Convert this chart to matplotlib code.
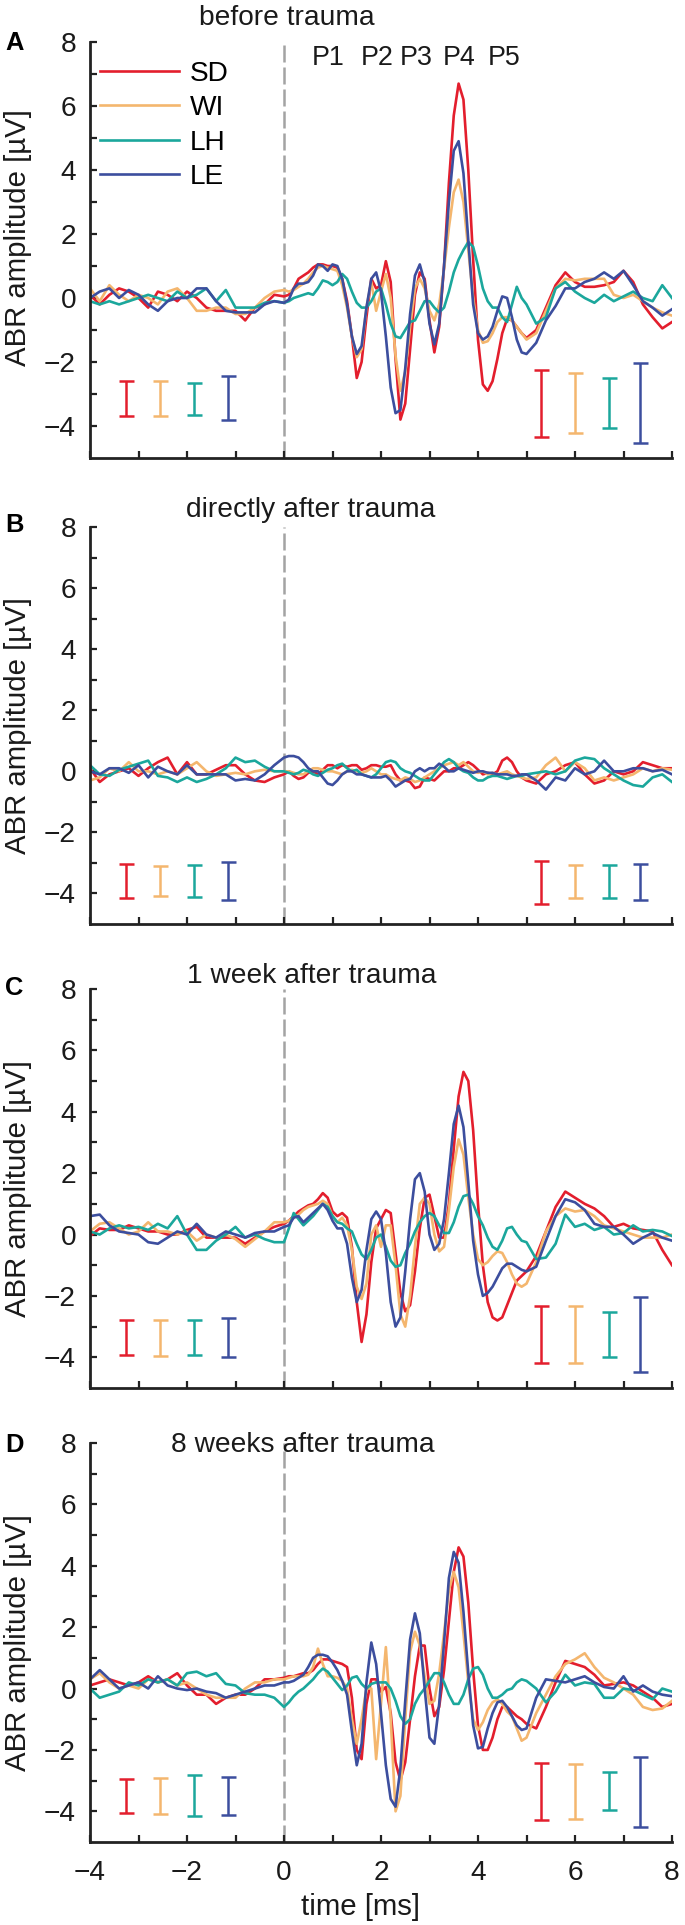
import numpy as np
import matplotlib.pyplot as plt
import matplotlib.transforms as mtransforms
from matplotlib import font_manager

# condensed Helvetica look if a narrow face is available
installed = {f.name for f in font_manager.fontManager.ttflist}
if 'Liberation Sans Narrow' in installed:
    plt.rcParams['font.family'] = ['Liberation Sans Narrow', 'DejaVu Sans']
    fs = 1.0
else:
    plt.rcParams['font.family'] = ['Liberation Sans', 'DejaVu Sans']
    fs = 0.92

# sampling grid of the read-off traces [ms]
time_pre = np.round(np.arange(-4.0, -0.1, 0.2), 1)    # 20 samples
time_resp = np.round(np.arange(0.0, 5.05, 0.1), 1)    # 51 samples
time_post = np.round(np.arange(5.2, 8.05, 0.2), 1)    # 15 samples
t = np.concatenate([time_pre, time_resp, time_post])

groups = ['SD', 'WI', 'LH', 'LE']
colors = ['#E31E2D', '#F4B66E', '#1BA79C', '#3C4E9E']
titles = ['before trauma', 'directly after trauma', '1 week after trauma', '8 weeks after trauma']
panel_letters = ['A', 'B', 'C', 'D']
peak_names = ['P1', 'P2', 'P3', 'P4', 'P5']

# ---- panel A: before trauma ----
A_SD = [0.1, -0.2, 0.1, 0.3, 0.2, 0.0, -0.3, 0.2, 0.1, -0.1, 0.2, 0.0, -0.3, -0.4, -0.4, -0.4, -0.7, -0.3, -0.2, 0.1,
        0.05, 0.1, 0.3, 0.6, 0.7, 0.8, 0.95, 1.05, 1.05, 1.0,
        1.0, 0.95, 0.6, -0.1, -1.2, -2.5, -2.0, -0.6, 0.6, 0.3,
        0.4, 1.15, 0.5, -1.9, -3.8, -3.3, -1.6, 0.1, 0.8, 0.6,
        -0.7, -1.7, -0.9, 1.0, 3.6, 5.7, 6.7, 6.2, 4.0, 1.2,
        -1.3, -2.7, -2.9, -2.6, -1.9, -1.1, -0.65, -0.7, -0.9, -1.1, -1.25,
        -1.0, -0.3, 0.4, 0.8, 0.5, 0.35, 0.35, 0.4, 0.5, 0.85, 0.5, -0.2, -0.6, -0.95, -0.75]
A_WI = [0.3, -0.1, 0.4, 0.1, -0.1, 0.1, 0.0, -0.2, 0.2, 0.3, 0.0, -0.4, -0.4, -0.3, -0.3, -0.5, -0.5, -0.3, 0.0, 0.2,
        0.25, 0.2, 0.25, 0.35, 0.45, 0.6, 0.8, 0.95, 1.0, 0.95,
        0.9, 0.85, 0.4, -0.3, -1.2, -1.85, -1.6, -0.3, 0.5, -0.4,
        0.2, 0.75, 0.0, -1.8, -2.9, -2.3, -0.9, 0.3, 0.6, 0.3,
        -0.4, -0.7, -0.2, 0.9, 2.2, 3.3, 3.7, 3.0, 1.5, 0.0,
        -1.0, -1.4, -1.35, -1.1, -0.75, -0.6, -0.6, -0.7, -0.9, -1.1, -1.3,
        -1.1, -0.4, 0.3, 0.6, 0.55, 0.6, 0.6, 0.6, 0.1, 0.0, 0.1, -0.1, -0.3, -0.45, -0.55]
A_LH = [-0.1, -0.2, -0.1, -0.2, -0.1, 0.0, 0.1, 0.0, -0.1, 0.2, 0.0, 0.1, 0.3, -0.1, 0.25, -0.3, -0.3, -0.3, -0.15, -0.1,
        -0.15, -0.1, 0.0, 0.05, 0.1, 0.15, 0.1, 0.3, 0.55, 0.5,
        0.4, 0.5, 0.75, 0.6, 0.2, -0.15, -0.3, -0.3, -0.1, 0.2,
        0.3, -0.2, -0.8, -1.2, -1.25, -1.0, -0.75, -0.7, -0.4, -0.1,
        -0.1, -0.3, -0.45, -0.3, 0.2, 0.8, 1.2, 1.5, 1.75, 1.6,
        1.0, 0.3, -0.1, -0.3, -0.3, -0.6, -0.75, -0.2, 0.35, 0.0, -0.2,
        -0.8, -0.6, 0.3, 0.5, 0.2, 0.0, -0.15, 0.1, -0.1, 0.05, 0.2, 0.0, -0.1, 0.4, 0.0]
A_LE = [0.0, 0.2, 0.3, 0.0, 0.25, 0.1, -0.2, -0.4, -0.1, 0.0, 0.0, 0.3, 0.3, -0.1, -0.4, -0.45, -0.45, -0.45, -0.2, -0.1,
        -0.15, -0.05, 0.3, 0.45, 0.45, 0.5, 0.7, 1.05, 1.0, 0.85,
        1.05, 1.0, 0.6, -0.2, -1.2, -1.75, -1.5, -0.3, 0.6, 0.8,
        0.2, -1.2, -2.8, -3.6, -3.5, -2.2, -0.5, 0.7, 1.05, 0.5,
        -0.8, -1.45, -0.8, 1.0, 3.0, 4.6, 4.9, 3.9, 1.8, -0.2,
        -1.1, -1.3, -1.2, -0.9, -0.4, 0.05, 0.0, -0.6, -1.3, -1.7, -1.75,
        -1.4, -0.7, -0.25, 0.3, 0.3, 0.5, 0.6, 0.8, 0.6, 0.85, 0.4, -0.1, -0.3, -0.55, -0.35]

# ---- panel B: directly after trauma ----
B_SD = [0.1, -0.35, -0.1, 0.0, 0.1, -0.15, 0.1, 0.3, 0.45, -0.1, 0.3, -0.1, -0.1, 0.05, 0.2, 0.2, -0.1, -0.3, -0.35, -0.2,
        -0.1, 0.0, -0.15, -0.25, -0.2, -0.05, 0.0, -0.1, 0.05, 0.2,
        0.2, 0.1, 0.2, 0.15, 0.2, 0.2, 0.05, 0.1, 0.2, 0.2,
        0.15, 0.15, 0.2, -0.1, -0.3, -0.3, -0.35, -0.55, -0.5, -0.2,
        -0.25, -0.3, -0.15, 0.0, 0.0, 0.1, 0.1, 0.2, 0.3, 0.2,
        0.05, -0.1, -0.05, -0.1, 0.0, 0.35, 0.45, 0.3, 0.0, -0.2, -0.3,
        -0.4, -0.1, 0.0, 0.2, 0.3, -0.1, -0.4, -0.3, 0.0, -0.1, 0.0, 0.3, 0.2, 0.1, 0.1]
B_WI = [-0.3, -0.2, 0.1, 0.0, 0.3, 0.0, 0.0, -0.1, 0.0, -0.1, 0.1, 0.3, 0.0, -0.15, -0.1, -0.05, -0.1, 0.0, 0.05, 0.0,
        0.0, 0.0, -0.05, -0.1, -0.1, 0.0, 0.1, 0.1, 0.05, 0.0,
        0.0, -0.05, -0.1, 0.0, 0.05, 0.0, -0.05, 0.0, 0.1, 0.0,
        -0.1, -0.1, -0.2, -0.25, -0.3, -0.2, -0.25, -0.35, -0.3, -0.2,
        -0.1, 0.0, 0.1, 0.2, 0.25, 0.3, 0.2, 0.3, 0.15, 0.0,
        -0.05, 0.0, -0.1, -0.05, -0.1, -0.05, 0.0, -0.1, -0.15, -0.2, -0.25,
        -0.2, 0.2, 0.45, 0.0, 0.3, 0.1, -0.3, -0.2, -0.3, -0.2, -0.1, 0.1, 0.0, 0.1, 0.05]
B_LH = [0.2, -0.1, -0.15, 0.05, 0.15, 0.25, 0.35, -0.15, -0.2, -0.35, -0.2, -0.35, -0.25, -0.1, 0.1, 0.45, 0.3, 0.35, 0.15, 0.0,
        0.0, -0.05, -0.1, -0.05, 0.05, 0.0, -0.1, -0.15, -0.05, 0.05,
        0.1, 0.2, 0.25, 0.1, 0.0, 0.05, -0.1, -0.15, -0.2, -0.1,
        0.1, 0.3, 0.35, 0.3, 0.1, 0.0, -0.05, -0.15, -0.25, -0.3,
        -0.3, -0.1, 0.1, 0.3, 0.4, 0.3, 0.1, 0.0, -0.05, -0.2,
        -0.3, -0.3, -0.2, -0.15, -0.15, -0.2, -0.25, -0.2, -0.15, -0.15, -0.1,
        -0.05, 0.0, -0.1, 0.0, 0.35, 0.45, 0.4, 0.1, -0.1, -0.3, -0.45, -0.5, -0.2, -0.1, -0.35]
B_LE = [0.0, -0.1, 0.1, 0.1, -0.05, 0.2, -0.2, 0.15, 0.0, -0.1, 0.2, -0.1, -0.1, -0.1, -0.1, -0.3, -0.25, -0.3, -0.1, 0.2,
        0.45, 0.5, 0.5, 0.45, 0.3, 0.1, 0.0, 0.0, -0.2, -0.4,
        -0.45, -0.3, -0.1, 0.0, 0.0, -0.1, -0.1, -0.15, -0.2, -0.2,
        -0.2, -0.15, -0.3, -0.5, -0.4, -0.3, -0.25, 0.0, 0.1, 0.0,
        0.1, 0.1, 0.25, 0.15, 0.0, 0.0, 0.1, 0.05, 0.0, -0.05,
        0.0, 0.0, -0.05, -0.05, -0.1, -0.1, -0.1, -0.15, -0.15, -0.1, -0.1,
        -0.3, -0.6, -0.2, -0.3, 0.1, -0.1, 0.0, 0.35, 0.0, 0.0, 0.1, 0.1, 0.0, 0.05, -0.1]

# ---- panel C: 1 week after trauma ----
C_SD = [-0.05, 0.2, 0.15, 0.15, 0.3, 0.2, 0.1, 0.1, 0.0, 0.0, 0.15, 0.25, -0.1, -0.1, -0.1, -0.1, -0.3, -0.1, 0.1, 0.25,
        0.35, 0.45, 0.6, 0.75, 0.85, 0.95, 1.0, 1.15, 1.35, 1.2,
        0.75, 0.6, 0.7, 0.55, -0.4, -2.2, -3.5, -2.6, -0.9, 0.2,
        0.5, 0.8, 0.7, -0.6, -1.9, -2.5, -2.3, -1.2, 0.2, 1.2,
        1.3, 0.6, -0.1, -0.1, 1.0, 2.8, 4.5, 5.3, 5.0, 3.4,
        1.0, -1.0, -2.2, -2.7, -2.8, -2.7, -2.3, -1.9, -1.5, -1.35, -1.2,
        -0.7, 0.1, 0.9, 1.4, 1.2, 1.0, 0.85, 0.6, 0.25, 0.35, 0.2, 0.15, 0.1, -0.5, -1.0]
C_WI = [0.1, 0.35, 0.4, 0.2, 0.0, 0.1, 0.4, 0.1, 0.1, 0.0, 0.1, -0.2, 0.0, -0.1, 0.0, -0.15, -0.4, -0.15, 0.1, 0.4,
        0.4, 0.45, 0.55, 0.65, 0.8, 0.9, 0.95, 1.0, 1.1, 1.0,
        0.6, 0.4, 0.55, 0.3, -0.5, -1.7, -2.1, -1.6, 0.0, 0.3,
        -0.4, 0.3, 0.3, -1.0, -2.6, -3.0, -2.0, -0.4, 1.0, 1.2,
        1.0, 0.0, -0.55, -0.4, 0.8, 2.2, 3.1, 2.6, 1.2, 0.0,
        -0.8, -1.0, -0.9, -0.7, -0.55, -0.6, -0.9, -1.3, -1.6, -1.7, -1.6,
        -0.9, 0.1, 0.6, 0.85, 0.75, 0.8, 0.6, 0.3, 0.2, 0.1, 0.0, -0.1, -0.1, -0.1, 0.0]
C_LH = [0.1, 0.0, 0.2, 0.3, 0.2, 0.25, 0.15, 0.35, 0.2, 0.6, 0.0, -0.5, -0.5, -0.2, 0.0, 0.25, -0.1, 0.0, -0.15, -0.25,
        -0.25, 0.2, 0.7, 0.5, 0.3, 0.45, 0.6, 0.8, 1.0, 0.9,
        0.6, 0.4, 0.35, 0.2, 0.1, -0.3, -0.65, -0.8, -0.5, -0.1,
        0.0, -0.4, -0.85, -1.05, -1.0, -0.6, -0.3, 0.1, 0.4, 0.6,
        0.7, 0.6, 0.3, 0.05, 0.05, 0.4, 0.9, 1.25, 1.3, 1.0,
        0.6, 0.3, -0.1, -0.4, -0.5, -0.2, 0.2, 0.25, 0.0, -0.2, -0.25,
        -0.8, -0.75, -0.3, 0.65, 0.25, 0.35, 0.15, 0.25, 0.0, 0.05, 0.3, 0.1, 0.15, 0.1, -0.05]
C_LE = [0.6, 0.65, 0.3, 0.1, 0.05, 0.0, -0.25, -0.3, -0.1, 0.1, 0.0, 0.35, 0.0, -0.1, 0.1, 0.0, -0.1, 0.05, 0.1, 0.1,
        0.25, 0.3, 0.55, 0.6, 0.4, 0.55, 0.7, 0.85, 1.0, 0.8,
        0.45, 0.2, 0.2, -0.3, -1.4, -2.2, -1.8, -0.5, 0.5, 0.75,
        0.5, -0.6, -2.2, -3.0, -2.7, -1.2, 0.5, 1.8, 2.0, 1.4,
        0.0, -0.5, -0.3, 0.5, 2.0, 3.6, 4.2, 3.5, 1.7, -0.2,
        -1.3, -2.0, -1.9, -1.7, -1.4, -1.1, -0.95, -0.95, -1.05, -1.15, -1.2,
        -1.05, -0.2, 0.6, 1.15, 1.05, 0.8, 0.35, 0.25, 0.25, 0.0, -0.3, -0.1, 0.05, -0.1, -0.2]

# ---- panel D: 8 weeks after trauma ----
D_SD = [0.1, 0.2, 0.3, 0.2, 0.1, 0.2, 0.4, 0.2, 0.3, 0.5, 0.1, -0.2, -0.2, -0.5, -0.3, -0.2, -0.2, 0.0, 0.3, 0.3,
        0.35, 0.4, 0.4, 0.45, 0.5, 0.5, 0.6, 0.8, 0.95, 0.95,
        0.9, 0.85, 0.8, 0.7, -0.3, -2.0, -2.3, -0.5, 0.3, 0.3,
        -0.1, 0.05, -0.8, -2.4, -3.0, -2.4, -1.0, 0.4, 1.4, 1.4,
        0.0, -0.9, -0.6, 0.6, 2.2, 3.8, 4.6, 4.3, 2.8, 0.6,
        -1.2, -2.0, -2.0, -1.6, -1.0, -0.6, -0.6, -0.75, -0.9, -1.0, -1.15,
        -1.3, -0.6, 0.2, 0.9, 0.8, 0.7, 0.45, 0.1, 0.15, 0.2, 0.1, -0.1, -0.3, -0.6, -0.5]
D_WI = [0.3, 0.5, 0.2, 0.0, 0.1, 0.0, 0.3, 0.2, 0.3, 0.1, 0.2, 0.0, -0.2, -0.3, -0.3, -0.3, 0.0, 0.2, 0.2, 0.3,
        0.3, 0.35, 0.4, 0.4, 0.4, 0.45, 0.7, 1.3, 0.8, 0.4,
        0.4, 0.35, 0.25, 0.0, -1.0, -1.8, -1.0, 0.0, 0.0, -2.3,
        -0.5, 1.35, -1.0, -4.0, -3.5, -1.0, 1.2, 1.85, 1.4, 0.4,
        -0.5, -0.4, 0.5, 1.8, 3.2, 3.8, 3.3, 1.8, 0.2, -1.0,
        -1.35, -1.1, -0.7, -0.45, -0.35, -0.5, -0.75, -0.9, -1.3, -1.7, -1.6,
        -0.8, -0.2, 0.4, 0.8, 0.95, 1.15, 0.7, 0.35, 0.2, 0.0, -0.2, -0.6, -0.7, -0.65, -0.4]
D_LH = [0.0, -0.3, -0.2, -0.1, 0.2, 0.1, 0.3, 0.2, 0.3, 0.1, 0.5, 0.55, 0.4, 0.5, 0.15, 0.1, -0.15, -0.2, -0.2, -0.3,
        -0.6, -0.45, -0.25, -0.1, 0.0, 0.15, 0.3, 0.5, 0.65, 0.55,
        0.35, 0.15, -0.05, 0.1, 0.35, 0.4, 0.15, 0.0, 0.15, 0.2,
        0.2, 0.2, 0.0, -0.4, -0.9, -1.15, -1.0, -0.5, -0.2, 0.0,
        0.25, 0.5, 0.5, 0.2, -0.2, -0.5, -0.5, -0.2, 0.3, 0.65,
        0.7, 0.45, 0.0, -0.3, -0.3, -0.2, -0.05, 0.0, 0.2, 0.3, 0.25,
        0.0, -0.45, -0.1, 0.45, 0.1, 0.2, 0.15, -0.3, -0.3, 0.0, -0.05, -0.2, -0.35, 0.0, -0.1]
D_LE = [0.3, 0.6, 0.3, 0.0, 0.1, 0.2, 0.0, 0.4, 0.1, 0.0, -0.05, 0.0, -0.1, -0.15, -0.3, -0.2, -0.1, 0.0, 0.1, 0.1,
        0.2, 0.2, 0.25, 0.35, 0.45, 0.7, 1.0, 1.1, 1.1, 1.05,
        0.85, 0.6, 0.25, -0.2, -1.4, -2.5, -1.8, 0.2, 1.5, 0.8,
        -0.8, -2.5, -3.6, -3.85, -2.6, -0.4, 1.6, 2.45, 1.8, 0.0,
        -1.6, -1.8, -0.5, 1.5, 3.6, 4.45, 4.1, 2.5, 0.5, -1.2,
        -1.95, -1.9, -1.3, -0.8, -0.45, -0.4, -0.6, -0.9, -1.2, -1.35, -1.3,
        -0.3, 0.3, 0.25, 0.2, 0.3, 0.4, 0.2, 0.05, 0.0, 0.4, -0.1, 0.1, -0.1, -0.2, -0.25]

traces = [[A_SD, A_WI, A_LH, A_LE],
          [B_SD, B_WI, B_LH, B_LE],
          [C_SD, C_WI, C_LH, C_LE],
          [D_SD, D_WI, D_LH, D_LE]]

# variability bars (lower / upper end, µV), order SD, WI, LH, LE
bar_t_pre = [-3.25, -2.55, -1.85, -1.15]
bar_t_post = [5.3, 6.0, 6.7, 7.35]
bar_pre_lo = [[-3.69, -3.68, -3.66, -3.81], [-4.16, -4.07, -4.13, -4.20],
              [-3.92, -3.95, -3.92, -3.98], [-4.04, -4.08, -4.14, -4.11]]
bar_pre_hi = [[-2.60, -2.60, -2.66, -2.44], [-3.02, -3.11, -3.08, -2.98],
              [-2.80, -2.77, -2.80, -2.73], [-2.95, -2.93, -2.82, -2.88]]
bar_post_lo = [[-4.34, -4.22, -4.06, -4.53], [-4.33, -4.16, -4.16, -4.23],
               [-4.18, -4.18, -3.99, -4.47], [-4.28, -4.25, -3.95, -4.50]]
bar_post_hi = [[-2.25, -2.34, -2.50, -2.03], [-2.95, -3.08, -3.08, -3.02],
               [-2.33, -2.33, -2.52, -2.03], [-2.41, -2.45, -2.73, -2.22]]

# ---- layout (pixels of the 685 x 1925 figure) ----
W, H = 685, 1925
ax_left, ax_right = 90, 672
panel_rows = [(42, 458), (527, 924), (989, 1388), (1443, 1842)]
title_x = [0.05, 0.55, 0.58, 0.38]          # data x of title centre
title_y = [1.041, 1.025, 1.015, 0.977]      # axes fraction of baseline
letter_base = [50, 532, 995, 1452]
peak_x = [0.91, 1.92, 2.72, 3.61, 4.54]

fig = plt.figure(figsize=(W / 100, H / 100), dpi=100)

for i, (top, bot) in enumerate(panel_rows):
    ax = fig.add_axes([ax_left / W, 1 - bot / H, (ax_right - ax_left) / W, (bot - top) / H])

    ax.axvline(0, color='#A3A3A3', lw=1.8, ls=(0, (6.8, 2)), zorder=1)

    for g, y, c in zip(groups, traces[i], colors):
        ax.plot(t, y, color=c, lw=1.9, label=g, zorder=2)

    for k, c in enumerate(colors):
        for bx, lo, hi in [(bar_t_pre[k], bar_pre_lo[i][k], bar_pre_hi[i][k]),
                           (bar_t_post[k], bar_post_lo[i][k], bar_post_hi[i][k])]:
            ax.errorbar([bx], [(lo + hi) / 2], yerr=[(hi - lo) / 2], fmt='none',
                        ecolor=c, elinewidth=1.8, capsize=5.4, capthick=1.8)

    ax.set_xlim(-4, 8)
    ax.set_ylim(-5, 8)
    ax.set_xticks(np.arange(-4, 9, 2))
    ax.set_xticks(np.arange(-3, 8, 2), minor=True)
    ax.set_yticks(np.arange(-4, 9, 2))
    ax.set_yticks(np.arange(-3, 8, 2), minor=True)
    ax.tick_params(which='both', direction='in', length=5, width=1.6, color='#222222')
    ax.tick_params(axis='y', labelsize=22 * fs, pad=10, labelcolor='#1A1A1A')
    ax.tick_params(axis='x', labelsize=22 * fs, pad=13, labelcolor='#1A1A1A')
    for s in ['top', 'right']:
        ax.spines[s].set_visible(False)
    for s in ['left', 'bottom']:
        ax.spines[s].set_linewidth(2.0)
        ax.spines[s].set_color('#222222')
    if i < 3:
        ax.set_xticklabels([])
    else:
        ax.set_xlabel('time [ms]', fontsize=23 * fs, color='#1A1A1A')
        ax.xaxis.set_label_coords(0.464, -0.128)

    ax.set_ylabel('ABR amplitude [µV]', fontsize=23 * fs, color='#1A1A1A')
    ax.yaxis.set_label_coords(-0.10, 0.53 if i == 0 else 0.5)

    trans = mtransforms.blended_transform_factory(ax.transData, ax.transAxes)
    ax.text(title_x[i], title_y[i], titles[i], transform=trans, ha='center',
            va='baseline', fontsize=22 * fs, color='#1A1A1A')
    fig.text(5 / W, 1 - letter_base[i] / H, panel_letters[i], fontsize=20 * fs,
             fontweight='bold', ha='left', va='baseline')

    if i == 0:
        for name, px in zip(peak_names, peak_x):
            ax.text(px, 7.5, name, ha='center', va='center', fontsize=21 * fs, color='#1A1A1A')
        ax.legend(loc='upper left', bbox_to_anchor=(0.017, 0.955), frameon=False,
                  fontsize=22 * fs, handlelength=2.8, handletextpad=0.4,
                  labelspacing=0.3, borderpad=0, borderaxespad=0)

fig.savefig('out.png', dpi=100)
